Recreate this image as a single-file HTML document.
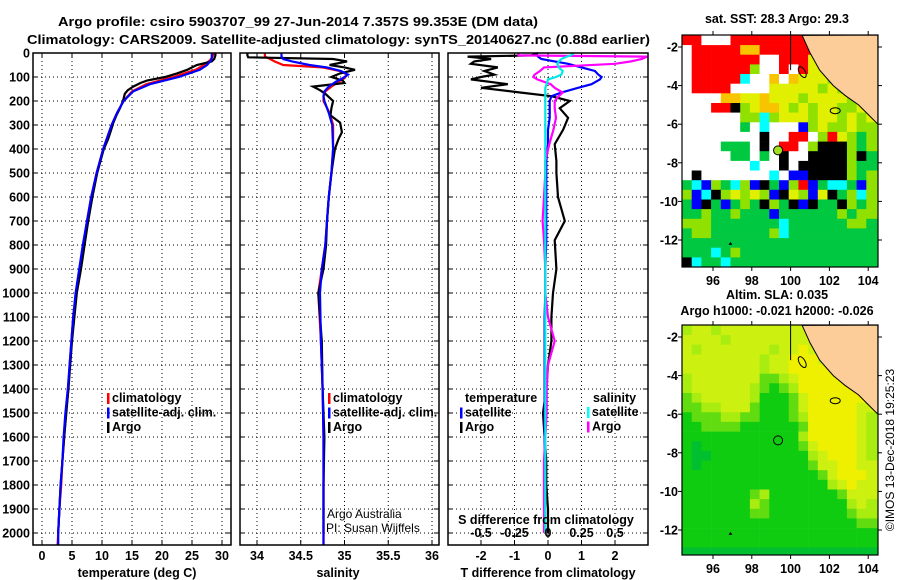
<!DOCTYPE html>
<html><head><meta charset="utf-8">
<style>
html,body{margin:0;padding:0;background:#fff;}
svg{display:block;font-family:"Liberation Sans",Arial,sans-serif;}
.b{font-weight:bold;font-size:13px;}
.t{font-weight:bold;font-size:12.5px;}
</style></head>
<body>
<svg id="fig" width="900" height="580" viewBox="0 0 900 580" xmlns="http://www.w3.org/2000/svg">
<text x="58" y="26" class="b" font-size="14" textLength="480" lengthAdjust="spacingAndGlyphs">Argo profile: csiro 5903707_99 27-Jun-2014 7.357S 99.353E (DM data)</text>
<text x="27" y="44" class="b" font-size="14" textLength="623" lengthAdjust="spacingAndGlyphs">Climatology: CARS2009. Satellite-adjusted climatology: synTS_20140627.nc (0.88d earlier)</text>
<g id="g"></g>
</svg>
<script>
// ---- profile data ----
const depthT=[0,10,20,30,50,70,100,130,160,200,250,300,400,500,600,700,800,900,1000,1100,1200,1300,1400,1500,1600,1700,1800,1900,2000,2050];
const climT=[28.6,28.5,28.3,28.0,27.0,25.6,21.9,17.4,15.0,13.6,12.5,11.6,10.2,9.1,8.2,7.5,6.9,6.3,5.7,5.2,4.9,4.6,4.4,4.0,3.7,3.4,3.2,2.9,2.7,2.6];
const satT=[28.3,28.3,28.3,28.2,27.5,26.3,22.8,18.0,15.2,13.6,12.5,11.6,10.2,9.1,8.2,7.5,6.8,6.2,5.6,5.2,4.9,4.6,4.3,3.9,3.6,3.4,3.1,2.9,2.7,2.7];
const depthA=[0,10,18,25,35,50,60,70,85,100,115,125,140,155,170,200,230,260,290,330,360,400,500,600,700,800,900,1000,1100,1200,1400,1600,1800,2000];
const argoT=[28.9,28.9,28.8,28.7,28.3,25.8,25.0,24.2,22.5,20.5,17.5,16.4,15.2,14.3,13.8,13.5,13.0,12.4,11.9,11.4,11.0,10.3,9.2,8.4,7.7,7.1,6.5,5.8,5.4,5.0,4.4,3.7,3.1,2.7];
const depthS=[0,15,25,35,50,60,75,90,105,120,140,160,180,200,250,300,400,500,600,700,800,900,1000,1200,1400,1600,1800,2000,2050];
const climS=[34.09,34.09,34.15,34.2,34.3,34.75,34.95,35.03,35.0,34.93,34.85,34.78,34.76,34.76,34.83,34.87,34.87,34.85,34.82,34.80,34.78,34.74,34.70,34.73,34.75,34.76,34.76,34.76,34.76];
const satS=[34.28,34.28,34.3,34.4,34.6,34.8,34.96,35.04,34.98,34.9,34.82,34.77,34.76,34.77,34.82,34.86,34.87,34.85,34.82,34.80,34.78,34.74,34.72,34.73,34.75,34.76,34.76,34.76,34.76];
const argoS=[33.89,33.89,33.9,34.87,35.03,34.83,35.0,35.12,34.95,34.85,34.98,35.0,34.64,34.72,34.78,34.87,34.85,34.84,34.95,34.97,34.93,34.89,34.85,34.82,34.80,34.79,34.76,34.70,34.72,34.74,34.75,34.77,34.76,34.76];
const depthD=[0,10,15,25,35,45,60,75,90,100,110,130,145,165,180,200,230,270,320,380,450,500,600,700,780,900,1000,1100,1200,1300,1400,1500,1600,1700,1800,1900,2000];
const dTargo=[-0.3,-0.5,-2.4,-1.7,-2.2,-2.3,-1.5,-1.9,-1.6,-2.0,-2.3,-1.2,-2.0,-0.8,0.1,0.65,0.35,0.6,0.45,0.2,0.25,0.25,0.3,0.5,0.2,0.25,0.15,0.1,0.1,0.0,-0.05,-0.15,-0.1,-0.05,-0.05,0.0,0.0];
const dTsat=[-0.33,-0.33,-0.3,-0.2,0.2,0.6,1.0,1.4,1.5,1.6,1.55,1.3,0.9,0.4,0.1,0.05,0.05,0.05,0.0,0.0,-0.05,-0.05,-0.05,-0.05,-0.05,-0.08,-0.08,-0.1,-0.1,-0.1,-0.1,-0.1,-0.1,-0.1,-0.1,-0.1,-0.1];
const dSargo=[-0.22,-0.22,0.74,0.7,0.62,0.5,-0.03,-0.06,-0.1,-0.11,-0.08,0.02,0.05,0.11,0.08,0.05,0.05,0.06,0.04,0.01,-0.02,-0.02,-0.03,-0.04,-0.03,-0.02,-0.02,0.0,0.05,0.0,-0.01,-0.01,-0.02,-0.03,-0.03,-0.03,-0.03];
const dSsat=[0.19,0.17,0.14,0.1,0.08,0.07,0.08,0.11,0.1,0.06,0.0,-0.01,-0.02,-0.02,-0.02,-0.02,-0.02,-0.02,-0.02,-0.02,-0.02,-0.02,-0.02,-0.02,-0.02,-0.02,-0.02,-0.02,-0.02,-0.02,-0.02,-0.02,-0.02,-0.02,-0.02,-0.02,-0.02];
const depthTicks=[0,100,200,300,400,500,600,700,800,900,1000,1100,1200,1300,1400,1500,1600,1700,1800,1900,2000];
const tTicks=[0,5,10,15,20,25,30];
const sTicks=[34,34.5,35,35.5,36];
const dTicks=[-2,-1,0,1,2];
const dSTicks=[-0.5,-0.25,0,0.25,0.5];
const dSTickLabels=["-0.5","-0.25","0","0.25","0.5"];
// ---- map data ----
const sstGrid=[
"RRWWWRRRRRRRRRLLLLLL","WRRRRROORRRRRRLLLLLL","WRRRRRRRWWRRRYRLLLLL","WRRRRRRgWWRWRYYRRLLL",
"WRRRRRCWWOWOYYYgRLLL","WRRRRWWWWYYYYYgYgYLL","WWWWOOYYOYYYgYYYYgYL","WWWRRKgYOOYgYgYYggYY",
"WWWWWWggCgYYYgYYgYgY","WWWWWWGWCWWWBgYggYgg","WWWWWWWWKWWRRWgRYgGg","WWWWGGGWKWRRWgKKKgGg",
"WWWWWGGWGWKWWKKKKgKG","WWWWWWWCWWKWKKKKKgGG","WKWWWWWWWCWBBKKKKgGg","GCBgGCgBKGBgRBGCCGBg",
"gBCKgYgYgBKYgBYKGgCg","GBKGBGgGKgGKBKGGKgGg","GGgGGgGGGBGGGGGGgGgg","gggGGGGGGGCGGGGGGggG",
"GggGGGGGGgCGGGGGGGGG","GGGGGGGGGGGGGGGGGGGG","GGGCGgGGGGGGGGGGGGGG","KCGGCGGGGGGGGGGGGGGG"];
const slaGrid=[
"lYYlYYYYYYYYYLLLLLLL","YYYYlYYYYYYYYYLLLLLL","YlYYYYYYYlYYyYYLLLLL","YYYYYYYYlYYyyyYYLLLL",
"YYYYYYYYlYYyyyyyYLLL","lYYYYYYYmmlYyyyyyyLL","lYYYYYYlmgmlyyyyyyyL","mlYYYYYlgggmYyyyyyyy",
"mmllYYYmgggmYyyyyyYY","gmmmllmmgggmlyyyyyYl","ggmmmmggggggmyyyyyYl","gggggggggggglyyyyyYl",
"gdggggggggggmYyyyyYl","gddgggggggggglYyyyYl","gdgggggggggggmYYyyYY","ggggggggggggggmYyyyY",
"ggggggggggggggglYyYY","gggggggmlgggggggmYYY","ggggggglmgggggggglYl","gggggggmmggggggggmll",
"ggggggggggggggggggmm","gggggggggggggggggggg","gggggggggggggggggggg","dddddddddddddddddddd"];
const sstColors={R:"#ff0000",W:"#ffffff",O:"#f8c400",Y:"#e0f000",g:"#90e000",G:"#00c840",B:"#0000ff",C:"#00ffff",K:"#000000",L:"#fccc99"};
const slaColors={Y:"#ccf010",y:"#eef000",l:"#a8ec10",m:"#60dc10",g:"#10cc10",d:"#00c030",L:"#fccc99"};
const lonTicks=[96,98,100,102,104];
const latTicks=[-2,-4,-6,-8,-10,-12];
const coastLon=[100.6,101.0,101.5,102.2,102.8,103.5,104.0,104.5,104.5];
const coastLat=[-1.4,-2.3,-3.2,-4.0,-4.5,-5.0,-5.5,-6.0,-1.4];
const argoLon=99.353, argoLat=-7.357;

const NS="http://www.w3.org/2000/svg";
const G=document.getElementById('g');
function el(tag,attrs,parent){const e=document.createElementNS(NS,tag);for(const k in attrs)e.setAttribute(k,attrs[k]);(parent||G).appendChild(e);return e;}
function txt(x,y,s,cls,anchor,parent){const e=el('text',{x:x,y:y,'text-anchor':anchor||'start'},parent);if(cls)e.setAttribute('class',cls);e.textContent=s;return e;}

const Y0=53,Y1=545;
const yD=d=>Y0+0.24*d;
const xT=t=>42+6*t;
const xS=s=>257+87.5*(s-34);
const xD=d=>548+33.5*d;

function panel(name,x0,x1,vTicks,xf){
  const g=el('g',{});
  
  
  depthTicks.forEach(d=>{if(d>0){const y=yD(d);el('line',{x1:x0,x2:x1,y1:y,y2:y,stroke:'#000','stroke-dasharray':'1,3','stroke-width':1},g);
    el('line',{x1:x0,x2:x0+5,y1:y,y2:y,stroke:'#000'},g);el('line',{x1:x1-5,x2:x1,y1:y,y2:y,stroke:'#000'},g);}});
  vTicks.forEach(v=>{const x=xf(v);el('line',{x1:x,x2:x,y1:Y0,y2:Y1,stroke:'#000','stroke-dasharray':'1,3'},g);
    el('line',{x1:x,x2:x,y1:Y0,y2:Y0+5,stroke:'#000'},g);el('line',{x1:x,x2:x,y1:Y1-5,y2:Y1,stroke:'#000'},g);});
  return g;
}
function frame(name,x0,x1){const r=el('rect',{x:x0,y:Y0,width:x1-x0,height:Y1-Y0,fill:'none',stroke:'#000','stroke-width':1.5});
  }
function line(name,xs,ds,xf,color,w){
  const pts=xs.map((v,i)=>xf(v).toFixed(1)+','+yD(ds[i]).toFixed(1)).join(' ');
  const p=el('polyline',{points:pts,fill:'none',stroke:color,'stroke-width':w||2.2,'stroke-linejoin':'miter'});
  
}
depthTicks.forEach(d=>{const t=txt(30,yD(d)+4.5,String(d),'t','end');});

// panel 1
panel('temperature-grid',33,231,tTicks,xT);
line('climatology-temperature',climT,depthT,xT,'#ff0000');
line('argo-temperature',argoT,depthA,xT,'#000000');
line('satellite-temperature',satT,depthT,xT,'#0000ff');
frame('temperature-panel',33,231);
tTicks.forEach(v=>{const t=txt(xT(v),560,String(v),'t','middle');});
{const t=txt(137,577,'temperature (deg C)','t','middle');}

// panel 2
panel('salinity-grid',240,439,sTicks,xS);
line('climatology-salinity',climS,depthS,xS,'#ff0000');
line('argo-salinity',argoS,depthA,xS,'#000000');
line('satellite-salinity',satS,depthS,xS,'#0000ff');
frame('salinity-panel',240,439);
sTicks.forEach(v=>{const t=txt(xS(v),560,String(v),'t','middle');});
{const t=txt(338,577,'salinity','t','middle');}
{const t=txt(327,518,'Argo Australia','', 'start');t.setAttribute('font-size','12');
 const u=txt(326,532,'PI: Susan Wijffels','', 'start');u.setAttribute('font-size','12');}

// panel 3
panel('difference-grid',448,648,dTicks,xD);
line('argo-temperature-difference',dTargo,depthD,xD,'#000000');
line('satellite-temperature-difference',dTsat,depthD,xD,'#0000ff');
line('argo-salinity-difference',dSargo.map(v=>v*4),depthD,xD,'#ff00ff');
line('satellite-salinity-difference',dSsat.map(v=>v*4),depthD,xD,'#00e8e8');
frame('difference-panel',448,648);
dTicks.forEach(v=>{const t=txt(xD(v),560,String(v),'t','middle');});
{const t=txt(548,577,'T difference from climatology','t','middle');}
{const t=txt(546,524,'S difference from climatology','t','middle');}
dSTicks.forEach((v,i)=>{const x=xD(v*4);el('line',{x1:x,x2:x,y1:Y1-12,y2:Y1-7,stroke:'#000'});
  const t=txt(x,537,dSTickLabels[i],'t','middle');});

// legends
function legend(name,x,y,items){
  const g=el('g',{});
  items.forEach((it,i)=>{const yy=y+i*14.5;
    if(it[1]){const r=el('rect',{x:x,y:yy-9,width:2.5,height:11,fill:it[1]},g);}
    const t=txt(x+5,yy,it[0],'t','start',g);});
}
legend('temperature-legend',107,402,[['climatology','#ff0000'],['satellite-adj. clim.','#0000ff'],['Argo','#000000']]);
legend('salinity-legend',328,402,[['climatology','#ff0000'],['satellite-adj. clim.','#0000ff'],['Argo','#000000']]);
legend('difference-temperature-legend',460,402,[['temperature',null],['satellite','#0000ff'],['Argo','#000000']]);
{const t=txt(593,402,'salinity','t','start');}
legend('difference-salinity-legend',587,416,[['satellite','#00ffff'],['Argo','#ff00ff']]);

// maps
const lonX=lon=>713+(lon-96)*19.4;
function map(name,top,grid,colors,title1,title2){
  const latY=lat=>top+12+(-2-lat)*19.3;
  const g=el('g',{});
  const L=682,R=878,T=top,B=top+(name==='sst-map'?232:230);
  const cw=19.4*0.5,ch=19.3*0.5;
  grid.forEach((row,r)=>{for(let c=0;c<row.length;c++){
    const x=lonX(94.4+0.5*c), y=latY(-1.4-0.5*r);
    const w=(c===row.length-1)?R-x:cw+0.3, h=(r===grid.length-1)?B-y:ch+0.3;
    const cell=el('rect',{x:x.toFixed(1),y:y.toFixed(1),width:w.toFixed(1),height:h.toFixed(1),fill:colors[row[c]]},g);
    }});
  const pts=coastLon.map((v,i)=>lonX(v).toFixed(1)+','+latY(coastLat[i]).toFixed(1)).join(' ')+' '+R+','+T;
  const land=el('polygon',{points:pts,fill:'#fccc99',stroke:'#000','stroke-width':1},g);
  
  el('line',{x1:lonX(100),x2:lonX(100),y1:T,y2:latY(-3.2),stroke:'#000'},g);
  el('ellipse',{cx:lonX(100.6),cy:latY(-3.3),rx:3,ry:6,fill:'none',stroke:'#000',transform:'rotate(-30 '+lonX(100.6)+' '+latY(-3.3)+')'},g);
  el('ellipse',{cx:lonX(102.3),cy:latY(-5.3),rx:5,ry:3,fill:'none',stroke:'#000'},g);
  el('polygon',{points:[[96.9,-12.1],[96.8,-12.25],[97.0,-12.25]].map(p=>lonX(p[0])+','+latY(p[1])).join(' '),fill:'#000'},g);
  const mk=el('circle',{cx:lonX(argoLon),cy:latY(argoLat),r:4.5,fill:name==='sst-map'?'#a0e020':'none',stroke:'#000','stroke-width':1},g);
  
  el('rect',{x:L,y:T,width:R-L,height:B-T,fill:'none',stroke:'#000','stroke-width':1.2},g);
  lonTicks.forEach(v=>{const x=lonX(v);el('line',{x1:x,x2:x,y1:B,y2:B+4,stroke:'#000'},g);el('line',{x1:x,x2:x,y1:T-4,y2:T,stroke:'#000'},g);
    const t=txt(x,B+18,String(v),'t','middle',g);});
  latTicks.forEach(v=>{const y=latY(v);el('line',{x1:L-4,x2:L,y1:y,y2:y,stroke:'#000'},g);el('line',{x1:R,x2:R+4,y1:y,y2:y,stroke:'#000'},g);
    const t=txt(L-4,y+4.5,String(v),'t','end',g);});
  const t1=txt(777,top-(title2?26:12),title1,'t','middle',g);
  if(title2){const t2=txt(777,top-10,title2,'t','middle',g);}
}
map('sst-map',35,sstGrid,sstColors,'sat. SST: 28.3 Argo: 29.3');
map('sla-map',325,slaGrid,slaColors,'Altim. SLA: 0.035','Argo h1000: -0.021 h2000: -0.026');
{const t=txt(0,0,'©IMOS 13-Dec-2018 19:25:23','','middle');t.setAttribute('font-size','12');t.setAttribute('transform','translate(894,450) rotate(-90)');
 }
</script>
</body></html>
